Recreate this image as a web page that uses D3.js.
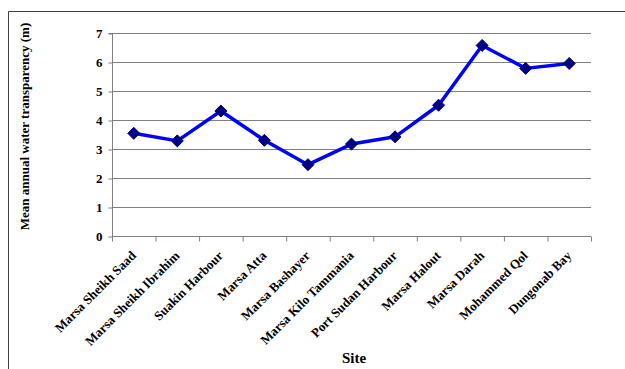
<!DOCTYPE html>
<html><head><meta charset="utf-8">
<script src="https://cdn.jsdelivr.net/npm/d3@7"></script>
<style>body{margin:0;background:#fff}svg{display:block}text{font-family:"Liberation Serif","Times New Roman",serif;font-weight:bold;fill:#000}</style>
</head><body><svg id="c" width="625" height="369"></svg>
<script>
const sites = ["Marsa Sheikh Saad","Marsa Sheikh Ibrahim","Suakin Harbour","Marsa Atta","Marsa Bashayer","Marsa Kilo Tammania","Port Sudan Harbour","Marsa Halout","Marsa Darah","Mohammed Qol","Dungonab Bay"];
const transparency = [3.54, 3.28, 4.31, 3.30, 2.46, 3.17, 3.42, 4.51, 6.57, 5.78, 5.95];
const yTicks = [0,1,2,3,4,5,6,7];

const svg = d3.select("#c");
const L=112, R=591, T=33, B=236;
svg.append("path").attr("d","M8.5,369 V11.5 H625").attr("fill","none").attr("stroke","#404040").attr("stroke-width",1);

const x = d3.scaleBand().domain(sites).range([L,R]).padding(0);
const y = d3.scaleLinear().domain([0,7]).range([B,T]);

svg.append("g").selectAll("line").data(yTicks.filter(d=>d>0)).join("line")
  .attr("x1",L).attr("x2",R).attr("y1",d=>y(d)+0.5).attr("y2",d=>y(d)+0.5)
  .attr("stroke","#808080").attr("stroke-width",1);

const ya = svg.append("g").attr("transform",`translate(${L+0.5},0.5)`)
  .call(d3.axisLeft(y).tickValues(yTicks).tickSize(4).tickFormat(d3.format("d")));
ya.select(".domain").attr("stroke","#808080").attr("d",`M-4,${y(7)}H0V${y(0)}`);
ya.selectAll(".tick line").attr("stroke","#808080");
ya.selectAll("text").style("font-size","13px").attr("x",-10);

const xa = svg.append("g").attr("transform",`translate(0,${B+0.5})`)
  .call(d3.axisBottom(x).tickSize(0));
xa.select(".domain").attr("stroke","#808080").attr("d",`M${L},0H${R}`);
xa.selectAll(".tick line").remove();
const tb = [...sites.map(s=>x(s)), R];
xa.selectAll("line.tk").data(tb).join("line").attr("class","tk")
  .attr("x1",d=>d+0.5).attr("x2",d=>d+0.5).attr("y1",0).attr("y2",5).attr("stroke","#808080");
xa.selectAll(".tick text").style("font-size","13px")
  .attr("text-anchor","end").attr("dy",0).attr("y",0)
  .attr("transform","translate(3,20) rotate(-45)");

const line = d3.line().x((d,i)=>x(sites[i])+x.bandwidth()/2).y(d=>y(d));
svg.append("path").datum(transparency).attr("d",line)
  .attr("fill","none").attr("stroke","#0000ff").attr("stroke-width",3.5).attr("stroke-linejoin","round");

svg.append("g").selectAll("path").data(transparency).join("path")
  .attr("d",d3.symbol(d3.symbolDiamond2,92))
  .attr("transform",(d,i)=>`translate(${x(sites[i])+x.bandwidth()/2},${y(d)})`)
  .attr("fill","#000080").attr("stroke","#000080").attr("stroke-width",1);

svg.append("text").attr("transform",`translate(29,${(T+B)/2-8}) rotate(-90)`)
  .attr("text-anchor","middle").style("font-size","13px").text("Mean annual water transparency (m)");
svg.append("text").attr("x",354).attr("y",363).attr("text-anchor","middle")
  .style("font-size","15px").text("Site");
</script></body></html>
